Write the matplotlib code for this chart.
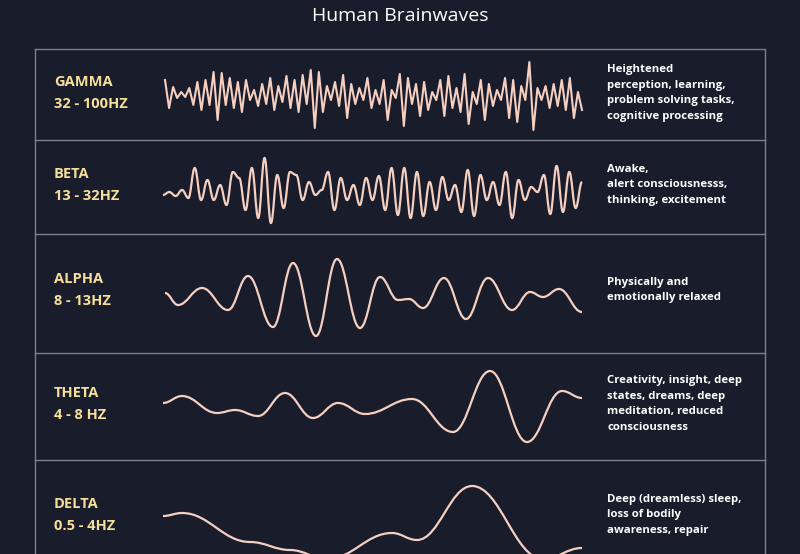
import numpy as np
import matplotlib
matplotlib.use("Agg")
import matplotlib.pyplot as plt
from matplotlib.path import Path
from matplotlib.patches import PathPatch

BG = "#191c2b"
WAVE = "#f5cfc0"
LABEL = "#f6df98"

names = ["GAMMA\n32 - 100HZ", "BETA\n13 - 32HZ", "ALPHA\n8 - 13HZ",
         "THETA\n4 - 8 HZ", "DELTA\n0.5 - 4HZ"]
descriptions = [
    "Heightened\nperception, learning,\nproblem solving tasks,\ncognitive processing",
    "Awake,\nalert consciousnesss,\nthinking, excitement",
    "Physically and\nemotionally relaxed",
    "Creativity, insight, deep\nstates, dreams, deep\nmeditation, reduced\nconsciousness",
    "Deep (dreamless) sleep,\nloss of bodily\nawareness, repair",
]
label_y = [93, 185, 290, 404, 515]
separators = [140, 234, 353, 460]

# gamma: jagged trace, extrema values (pixel rows), evenly spread
gamma_y = [80, 108, 87, 98, 92, 97, 88, 105, 82, 110, 80, 105, 72, 120, 73,
           105, 78, 108, 82, 112, 80, 100, 90, 106, 84, 104, 78, 110, 86, 102,
           76, 108, 80, 112, 75, 104, 70, 128, 72, 112, 86, 100, 82, 106, 75,
           118, 84, 104, 88, 100, 78, 108, 90, 104, 80, 120, 90, 98, 74, 126,
           78, 104, 84, 116, 82, 110, 92, 100, 80, 116, 76, 108, 88, 112, 74,
           124, 92, 104, 80, 120, 84, 106, 90, 100, 78, 118, 80, 122, 86, 100,
           62, 130, 88, 100, 86, 108, 84, 106, 80, 110, 78, 118, 92, 110]
# beta: extrema values (pixel rows), evenly spread
beta_y = [195, 192, 196, 190, 198, 168, 200, 180, 200, 185, 205, 172, 178,
          210, 168, 218, 158, 223, 175, 208, 172, 175, 200, 182, 195, 190,
          172, 210, 178, 200, 185, 205, 178, 200, 176, 210, 168, 215, 168,
          218, 172, 216, 182, 210, 177, 200, 185, 212, 170, 216, 175, 200,
          182, 205, 172, 218, 180, 200, 187, 192, 175, 214, 166, 212, 172,
          208, 182]
alpha_x = [165, 178, 202, 228, 248, 273, 293, 316, 337, 360, 380, 398, 409,
           423, 444, 466, 488, 512, 530, 543, 559, 582]
alpha_y = [293, 305, 288, 310, 276, 327, 263, 336, 259, 328, 277, 300, 299,
           308, 278, 319, 278, 310, 292, 297, 289, 312]
theta_x = [163, 182, 217, 235, 258, 285, 313, 338, 365, 412, 453, 490, 527,
           562, 582]
theta_y = [403, 396, 413, 410, 416, 393, 418, 403, 414, 399, 432, 371, 442,
           391, 398]
delta_x = [163, 182, 250, 290, 327, 392, 417, 472, 543, 582]
delta_y = [516, 513, 542, 550, 559, 533, 540, 486, 559, 548]


def smooth_path(xs, ys):
    verts = [(xs[0], ys[0])]
    codes = [Path.MOVETO]
    for x0, y0, x1, y1 in zip(xs[:-1], ys[:-1], xs[1:], ys[1:]):
        d = (x1 - x0) * 0.4
        verts += [(x0 + d, y0), (x1 - d, y1), (x1, y1)]
        codes += [Path.CURVE4] * 3
    return Path(verts, codes)


fig = plt.figure(figsize=(8, 5.54), dpi=100, facecolor=BG)
ax = fig.add_axes([0, 0, 1, 1])
ax.set_xlim(0, 800)
ax.set_ylim(554, 0)
ax.axis("off")
ax.set_facecolor(BG)

ax.text(400, 16, "Human Brainwaves", color="white", fontsize=14,
        family="Open Sans", fontweight="medium", ha="center", va="center")
ax.plot([35, 765, 765], [49, 49, 554], color="#7d808c", lw=1)
ax.plot([35, 35], [49, 554], color="#7d808c", lw=1)
for y in separators:
    ax.plot([35, 765], [y, y], color="#7d808c", lw=1)

for name, desc, y in zip(names, descriptions, label_y):
    ax.text(54, y, name, color=LABEL, fontsize=10.5, fontweight="bold",
            family="Open Sans", va="center", linespacing=1.75)
    ax.text(607, y, desc, color="white", fontsize=8.2, fontweight="bold",
            family="Open Sans", va="center", linespacing=1.6)

gx = np.linspace(165, 582, len(gamma_y))
ax.plot(gx, gamma_y, color=WAVE, lw=1.5)
bx = np.linspace(163, 582, len(beta_y))
ax.add_patch(PathPatch(smooth_path(bx, beta_y), fill=False, ec=WAVE, lw=1.6))
for xs, ys in [(alpha_x, alpha_y), (theta_x, theta_y), (delta_x, delta_y)]:
    ax.add_patch(PathPatch(smooth_path(xs, ys), fill=False, ec=WAVE, lw=1.6))

fig.savefig("out.png", facecolor=BG)
